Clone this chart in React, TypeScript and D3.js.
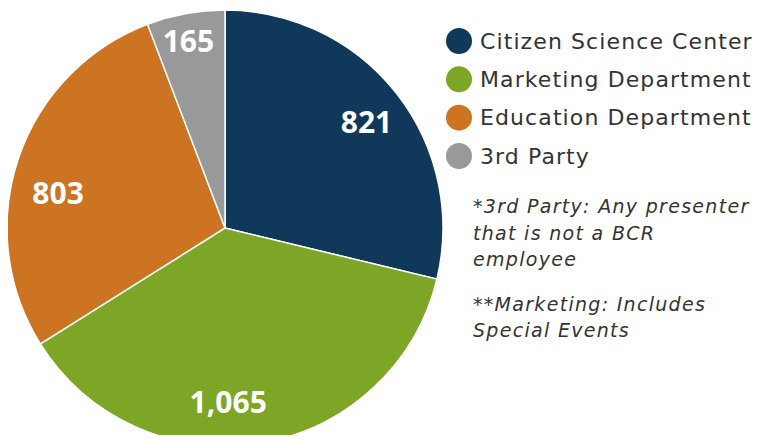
import { useEffect, useRef } from 'react';
import * as d3 from 'd3';

const categories = ['Citizen Science Center', 'Marketing Department', 'Education Department', '3rd Party'];
const values = [821, 1065, 803, 165];
const colors = ['#10385a', '#7da526', '#cc7422', '#999999'];
const notes = [
  ['*3rd Party: Any presenter', 'that is not a BCR', 'employee'],
  ['**Marketing: Includes', 'Special Events'],
];

const width = 763;
const height = 443;

const PieChart: React.FC = () => {
  const svgRef = useRef<SVGSVGElement | null>(null);

  useEffect(() => {
    if (!svgRef.current) return;
    const svg = d3.select(svgRef.current);
    svg.selectAll('*').remove();

    const radius = 218;
    const g = svg.append('g').attr('transform', 'translate(225, 228)');

    const pie = d3
      .pie<number>()
      .sort(null)
      .value((d) => d);
    const arcs = pie(values);

    const arc = d3.arc<d3.PieArcDatum<number>>().innerRadius(0).outerRadius(radius);
    const labelArc = d3.arc<d3.PieArcDatum<number>>().innerRadius(175).outerRadius(175);
    // small hand tweaks so labels sit like the original's best-fit placement
    const nudge = [
      [4, 3],
      [-25, 2],
      [-1, 21],
      [-5, -14],
    ];

    g.selectAll('path.slice')
      .data(arcs)
      .enter()
      .append('path')
      .attr('class', 'slice')
      .attr('d', arc)
      .attr('fill', (_, i) => colors[i])
      .attr('stroke', '#ffffff')
      .attr('stroke-width', 1.5);

    // value labels
    g.selectAll('text.value')
      .data(arcs)
      .enter()
      .append('text')
      .attr('class', 'value')
      .attr('transform', (d, i) => {
        const [x, y] = labelArc.centroid(d);
        return `translate(${x + nudge[i][0]}, ${y + nudge[i][1]})`;
      })
      .attr('text-anchor', 'middle')
      .attr('dy', '0.35em')
      .style('font-family', '"Open Sans", sans-serif')
      .style('font-weight', 700)
      .style('font-size', '30px')
      .style('fill', '#ffffff')
      .text((d) => d3.format(',')(d.data));

    // legend
    const legendY = d3.scalePoint<string>().domain(categories).range([41, 156]);
    const legend = svg
      .append('g')
      .selectAll('g')
      .data(categories)
      .enter()
      .append('g')
      .attr('transform', (d) => `translate(459, ${legendY(d)})`);

    legend
      .append('circle')
      .attr('r', 13)
      .attr('fill', (_, i) => colors[i]);

    legend
      .append('text')
      .attr('x', 21)
      .attr('dy', '0.35em')
      .style('font-family', '"DejaVu Sans", sans-serif')
      .style('font-size', '22px')
      .style('letter-spacing', '1.1px')
      .style('fill', '#333333')
      .text((d) => d);

    // footnotes
    let y = 213;
    notes.forEach((block) => {
      block.forEach((line) => {
        svg
          .append('text')
          .attr('x', 473)
          .attr('y', y)
          .style('font-family', '"DejaVu Sans", sans-serif')
          .style('font-style', 'italic')
          .style('font-size', '19px')
          .style('letter-spacing', '1.3px')
          .style('fill', '#333333')
          .text(line);
        y += 26.5;
      });
      y += 18;
    });
  }, []);

  return <svg ref={svgRef} width={width} height={height} style={{ display: 'block' }} />;
};

export default function App() {
  return (
    <div style={{ margin: '-8px' }}>
      <PieChart />
    </div>
  );
}
